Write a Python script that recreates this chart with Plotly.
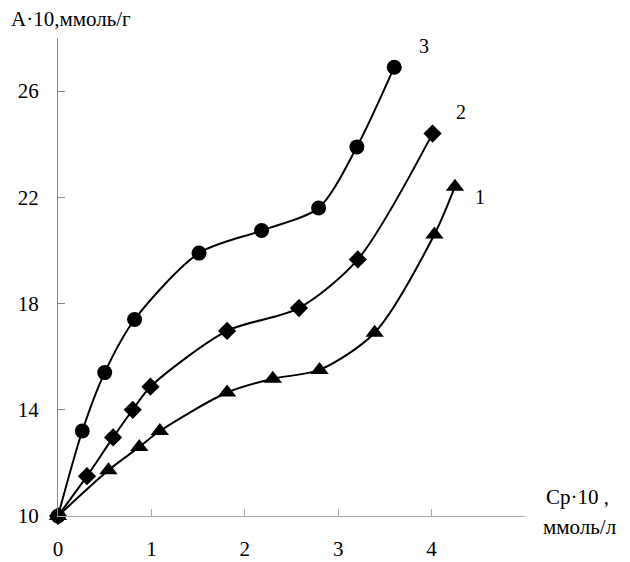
import plotly.graph_objects as go

# Series 1 (triangles)
x1 = [0, 0.54, 0.87, 1.09, 1.81, 2.30, 2.80, 3.39, 4.03, 4.25]
y1 = [10, 11.72, 12.6, 13.2, 14.65, 15.17, 15.5, 16.9, 20.6, 22.4]
# Series 2 (diamonds)
x2 = [0, 0.31, 0.59, 0.80, 0.99, 1.81, 2.58, 3.21, 4.01]
y2 = [10, 11.5, 12.96, 14.0, 14.87, 16.97, 17.83, 19.66, 24.4]
# Series 3 (circles)
x3 = [0, 0.26, 0.50, 0.82, 1.51, 2.18, 2.79, 3.20, 3.60]
y3 = [10, 13.2, 15.4, 17.4, 19.9, 20.75, 21.6, 23.9, 26.9]

series_labels = ["1", "2", "3"]
label_x = [4.52, 4.32, 3.92]
label_y = [22.0, 25.2, 27.7]

x_ticks = [0, 1, 2, 3, 4, 5]
x_ticktext = ["0", "1", "2", "3", "4", ""]
y_ticks = [10, 14, 18, 22, 26]

FONT = "Liberation Serif"
FS = 21

fig = go.Figure()
for xs, ys, sym, sz in [(x1, y1, "triangle-up", 16), (x2, y2, "diamond", 14), (x3, y3, "circle", 15)]:
    fig.add_trace(go.Scatter(
        x=xs, y=ys, mode="lines+markers",
        line=dict(color="black", width=2, shape="spline", smoothing=0.8),
        marker=dict(symbol=sym, size=sz, color="black"),
        showlegend=False, cliponaxis=False,
    ))

for t, lx, ly in zip(series_labels, label_x, label_y):
    fig.add_annotation(x=lx, y=ly, text=t, showarrow=False,
                       font=dict(family=FONT, size=20, color="black"))

fig.add_annotation(xref="paper", yref="paper", x=-0.105, y=1.04, xanchor="left", yanchor="middle",
                   text="A·10,ммоль/г", showarrow=False, font=dict(family=FONT, size=21, color="black"))
fig.add_annotation(xref="paper", yref="paper", x=1.04, y=0.04, xanchor="left", yanchor="middle",
                   text="Cp·10 ,", showarrow=False, font=dict(family=FONT, size=21, color="black"))
fig.add_annotation(xref="paper", yref="paper", x=1.035, y=-0.023, xanchor="left", yanchor="middle",
                   text="ммоль/л", showarrow=False, font=dict(family=FONT, size=21, color="black"))

fig.update_layout(
    width=622, height=554,
    margin=dict(l=50, r=105, t=30, b=46),
    plot_bgcolor="white", paper_bgcolor="white",
    font=dict(family=FONT, size=FS, color="black"),
    xaxis=dict(range=[0, 5], tickvals=x_ticks, ticktext=x_ticktext, automargin=False,
               showgrid=False, zeroline=False, showline=True, linecolor="#aaaaaa", linewidth=1,
               ticks="inside", ticklen=7, tickcolor="#aaaaaa", ticklabelstandoff=14),
    yaxis=dict(range=[10, 28], tickvals=y_ticks, automargin=False,
               showgrid=False, zeroline=False, showline=True, linecolor="#888888", linewidth=1,
               ticks="inside", ticklen=7, tickcolor="#888888", ticklabelstandoff=14),
)

fig.write_html("out.html")
